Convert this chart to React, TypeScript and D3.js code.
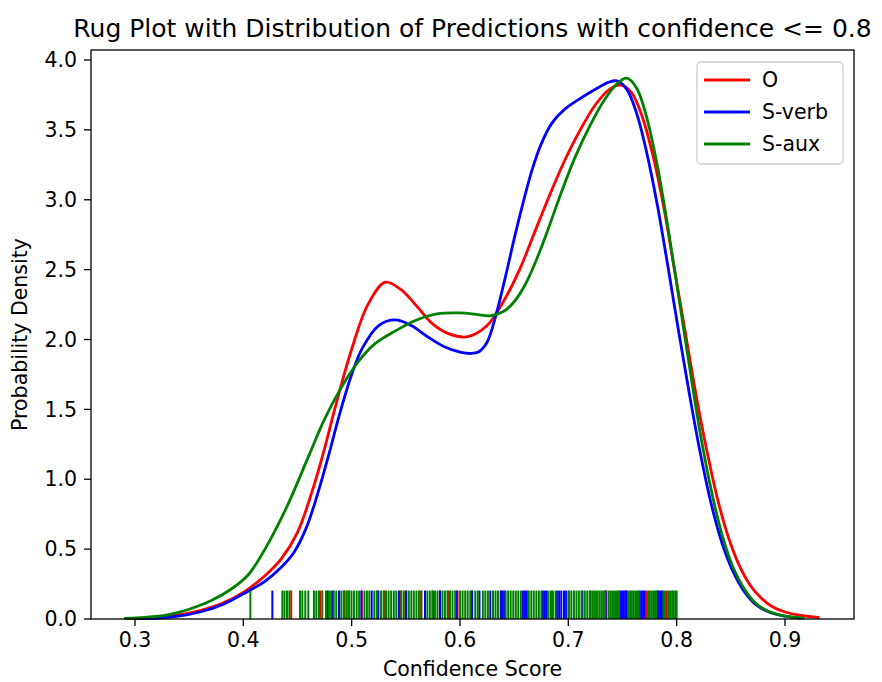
import React from "react";
import * as d3 from "d3";

// KDE curves: [confidence, density]
const oCurve: [number, number][] = [
  [0.291, 0.003], [0.32, 0.012], [0.34, 0.03], [0.36, 0.06], [0.38, 0.11], [0.4, 0.19],
  [0.42, 0.31], [0.435, 0.43], [0.45, 0.62], [0.465, 0.95], [0.475, 1.22], [0.485, 1.52],
  [0.5, 1.93], [0.515, 2.25], [0.531, 2.41], [0.545, 2.36], [0.56, 2.24], [0.575, 2.11],
  [0.59, 2.04], [0.607, 2.02], [0.625, 2.1], [0.64, 2.27], [0.655, 2.5], [0.668, 2.75],
  [0.681, 3.0], [0.696, 3.27], [0.711, 3.5], [0.725, 3.68], [0.738, 3.79], [0.748, 3.82],
  [0.758, 3.77], [0.768, 3.6], [0.778, 3.32], [0.788, 2.95], [0.798, 2.5], [0.808, 2.05],
  [0.818, 1.6], [0.828, 1.2], [0.838, 0.85], [0.848, 0.58], [0.858, 0.38], [0.868, 0.24],
  [0.878, 0.15], [0.888, 0.09], [0.9, 0.05], [0.915, 0.025], [0.932, 0.01],
];

const sVerbCurve: [number, number][] = [
  [0.3, 0.002], [0.32, 0.005], [0.34, 0.02], [0.36, 0.05], [0.38, 0.1], [0.4, 0.18],
  [0.42, 0.27], [0.435, 0.37], [0.447, 0.48], [0.458, 0.65], [0.468, 0.88], [0.478, 1.15],
  [0.489, 1.47], [0.5, 1.75], [0.51, 1.94], [0.525, 2.1], [0.54, 2.14], [0.555, 2.1],
  [0.57, 2.02], [0.585, 1.95], [0.6, 1.91], [0.61, 1.9], [0.617, 1.91], [0.625, 1.98],
  [0.633, 2.17], [0.642, 2.45], [0.65, 2.72], [0.658, 2.97], [0.666, 3.2], [0.675, 3.4],
  [0.685, 3.55], [0.697, 3.65], [0.712, 3.73], [0.727, 3.8], [0.737, 3.84], [0.745, 3.85],
  [0.754, 3.79], [0.763, 3.62], [0.772, 3.35], [0.782, 2.97], [0.792, 2.52], [0.802, 2.05],
  [0.812, 1.6], [0.822, 1.18], [0.832, 0.82], [0.842, 0.54], [0.852, 0.34], [0.862, 0.2],
  [0.872, 0.11], [0.885, 0.05], [0.9, 0.02], [0.915, 0.005],
];

const sAuxCurve: [number, number][] = [
  [0.29, 0.004], [0.31, 0.012], [0.33, 0.03], [0.35, 0.07], [0.37, 0.13], [0.39, 0.22],
  [0.405, 0.32], [0.42, 0.5], [0.44, 0.8], [0.46, 1.16], [0.475, 1.43], [0.49, 1.65],
  [0.505, 1.83], [0.52, 1.96], [0.54, 2.06], [0.56, 2.14], [0.58, 2.185], [0.6, 2.19],
  [0.615, 2.18], [0.628, 2.17], [0.64, 2.2], [0.65, 2.27], [0.66, 2.39], [0.67, 2.56],
  [0.68, 2.76], [0.692, 3.02], [0.706, 3.3], [0.72, 3.53], [0.733, 3.71], [0.745, 3.83],
  [0.754, 3.87], [0.763, 3.8], [0.772, 3.6], [0.782, 3.25], [0.792, 2.8], [0.802, 2.3],
  [0.812, 1.8], [0.822, 1.32], [0.832, 0.92], [0.842, 0.6], [0.852, 0.37], [0.862, 0.22],
  [0.872, 0.12], [0.882, 0.065], [0.895, 0.03], [0.905, 0.015], [0.918, 0.005],
];

// rug positions (confidence scores)
const oRug = [
  0.4442, 0.4712, 0.4932, 0.5093, 0.524, 0.5305, 0.545, 0.5505, 0.5635, 0.5815, 0.589,
  0.5978, 0.6113, 0.6375, 0.662, 0.6845, 0.7003, 0.735, 0.753, 0.772, 0.791,
];

const sVerbRug = [
  0.4268, 0.4775, 0.4828, 0.4883, 0.497, 0.509, 0.5185, 0.5246, 0.5436, 0.55, 0.5677,
  0.575, 0.5815, 0.597, 0.611, 0.618, 0.628, 0.638, 0.6395, 0.641, 0.658, 0.6595, 0.661,
  0.6765, 0.678, 0.6795, 0.6895, 0.6915, 0.6935, 0.696, 0.698, 0.713, 0.7345, 0.748,
  0.7495, 0.751, 0.7525, 0.754, 0.766, 0.7675, 0.769, 0.7705, 0.782, 0.7835, 0.785, 0.7865,
];

const sAuxRug = [
  0.4065, 0.436, 0.438, 0.4403, 0.4425, 0.4523, 0.4545, 0.4572, 0.46, 0.4652, 0.4674,
  0.4698, 0.4729, 0.4763, 0.479, 0.481, 0.4835, 0.4858, 0.4905, 0.4928, 0.4951, 0.4975,
  0.4998, 0.5021, 0.5046, 0.5069, 0.5118, 0.5141, 0.5163, 0.5209, 0.5232, 0.5271, 0.5295,
  0.5318, 0.5341, 0.5364, 0.5389, 0.5412, 0.5459, 0.5482, 0.5528, 0.5551, 0.5574, 0.5598,
  0.5621, 0.5645, 0.5699, 0.5722, 0.5745, 0.5769, 0.5792, 0.5838, 0.5861, 0.5885, 0.5908,
  0.5931, 0.5955, 0.6001, 0.6024, 0.6048, 0.6071, 0.6095, 0.6141, 0.6164, 0.6211, 0.6234,
  0.6258, 0.6305, 0.6328, 0.6351, 0.6422, 0.6445, 0.6468, 0.6492, 0.6515, 0.6538, 0.6562,
  0.6635, 0.6658, 0.6681, 0.6705, 0.6728, 0.6751, 0.6812, 0.6835, 0.6858, 0.6882, 0.7005,
  0.7028, 0.7052, 0.7075, 0.7098, 0.7122, 0.7152, 0.7175, 0.7198, 0.7205, 0.7222, 0.7238,
  0.7256, 0.7271, 0.729, 0.7308, 0.7324, 0.7339, 0.7372, 0.7388, 0.7405, 0.7421, 0.744,
  0.7456, 0.7468, 0.7556, 0.7571, 0.7587, 0.7603, 0.7619, 0.7634, 0.765, 0.7736, 0.7752,
  0.7768, 0.7784, 0.78, 0.7812, 0.7878, 0.7893, 0.7928, 0.7943, 0.7959, 0.7974, 0.799, 0.8,
];

const xTicks = [0.3, 0.4, 0.5, 0.6, 0.7, 0.8, 0.9];
const yTicks = [0, 0.5, 1, 1.5, 2, 2.5, 3, 3.5, 4];

const series = [
  { name: "O", color: "red", curve: oCurve, rug: oRug },
  { name: "S-verb", color: "blue", curve: sVerbCurve, rug: sVerbRug },
  { name: "S-aux", color: "green", curve: sAuxCurve, rug: sAuxRug },
];

const width = 882;
const height = 682;
const margin = { top: 50, right: 28, bottom: 63, left: 91 };
const font = "DejaVu Sans, sans-serif";
const fs = 20.5;

const App = () => {
  const iw = width - margin.left - margin.right;
  const ih = height - margin.top - margin.bottom;

  const x = d3.scaleLinear().domain([0.2594, 0.9637]).range([0, iw]);
  const y = d3.scaleLinear().domain([0, 4.0716]).range([ih, 0]);

  const line = d3
    .line<[number, number]>()
    .x((d) => x(d[0]))
    .y((d) => y(d[1]))
    .curve(d3.curveCatmullRom);

  const rugH = ih * 0.05;

  return (
    <svg width={width} height={height} style={{ position: "absolute", left: 0, top: 0 }}>
      <rect width={width} height={height} fill="#fff" />
      <text x={margin.left + iw / 2} y={37} textAnchor="middle" fontFamily={font} fontSize={25}>
        Rug Plot with Distribution of Predictions with confidence &lt;= 0.8
      </text>
      <g transform={`translate(${margin.left},${margin.top})`}>
        {series.map((s) => (
          <g key={s.name}>
            <path d={line(s.curve) || ""} fill="none" stroke={s.color} strokeWidth={2.8} />
            {s.rug.map((v, i) => (
              <line key={i} x1={x(v)} x2={x(v)} y1={ih} y2={ih - rugH} stroke={s.color} strokeWidth={2} />
            ))}
          </g>
        ))}

        <rect x={0} y={0} width={iw} height={ih} fill="none" stroke="#000" strokeWidth={1.3} />

        {xTicks.map((t) => (
          <g key={t} transform={`translate(${x(t)},${ih})`}>
            <line y2={7} stroke="#000" strokeWidth={1.3} />
            <text y={28} textAnchor="middle" fontFamily={font} fontSize={fs}>
              {d3.format(".1f")(t)}
            </text>
          </g>
        ))}
        {yTicks.map((t) => (
          <g key={t} transform={`translate(0,${y(t)})`}>
            <line x2={-7} stroke="#000" strokeWidth={1.3} />
            <text x={-14} dy="0.35em" textAnchor="end" fontFamily={font} fontSize={fs}>
              {d3.format(".1f")(t)}
            </text>
          </g>
        ))}

        <text x={iw / 2} y={ih + 57} textAnchor="middle" fontFamily={font} fontSize={fs}>
          Confidence Score
        </text>
        <text
          transform={`translate(${-64},${ih / 2}) rotate(-90)`}
          textAnchor="middle"
          fontFamily={font}
          fontSize={fs}
        >
          Probability Density
        </text>

        <g transform={`translate(${697 - margin.left},${62 - margin.top})`}>
          <rect width={146} height={102} rx={4} fill="#fff" fillOpacity={0.8} stroke="#ccc" strokeWidth={1.3} />
          {series.map((s, i) => (
            <g key={s.name} transform={`translate(0,${18 + i * 32})`}>
              <line x1={7} x2={53} stroke={s.color} strokeWidth={2.8} />
              <text x={65} dy="0.35em" fontFamily={font} fontSize={fs}>
                {s.name}
              </text>
            </g>
          ))}
        </g>
      </g>
    </svg>
  );
};

export default App;
